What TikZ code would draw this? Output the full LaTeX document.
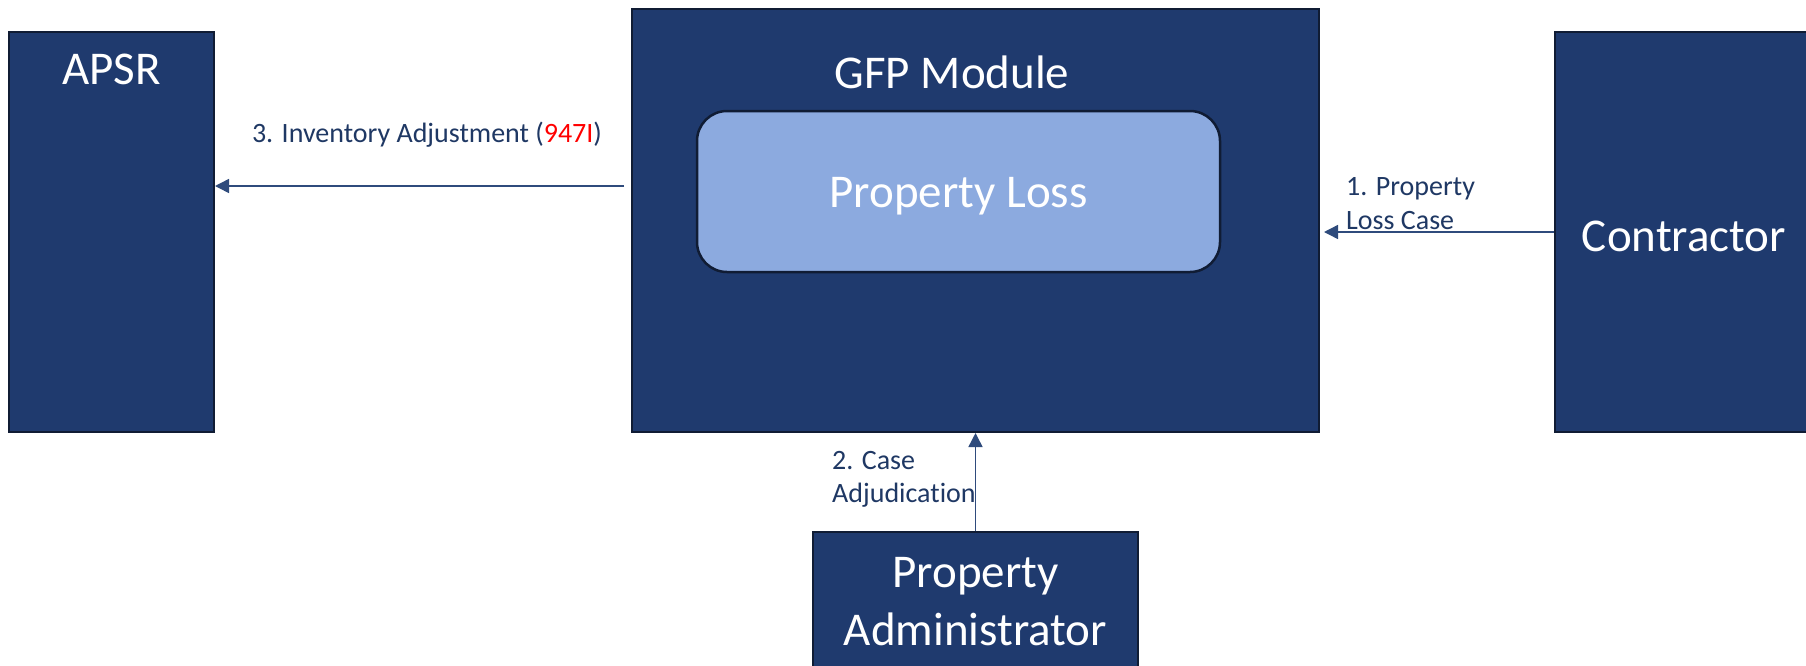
\documentclass[tikz,border=0pt]{standalone}
\usepackage{fontspec}
\setmainfont[Ligatures=NoCommon]{Carlito}
\usetikzlibrary{arrows.meta,calc}
\definecolor{boxblue}{RGB}{31,58,110}
\definecolor{boxline}{RGB}{16,28,52}
\definecolor{lightblue}{RGB}{140,170,223}
\definecolor{arrowblue}{RGB}{47,75,124}
\definecolor{labelblue}{RGB}{31,56,100}
\definecolor{redtext}{RGB}{255,0,0}
\begin{document}
\begin{tikzpicture}[x=1pt,y=-1pt,
  sysbox/.style={draw=boxline, line width=2pt, fill=boxblue, inner sep=0pt},
  bigtext/.style={text=white, font=\fontsize{47}{56}\selectfont, inner sep=0pt},
  lbl/.style={text=labelblue, font=\fontsize{28}{33.5}\selectfont, inner sep=0pt},
  arr/.style={draw=arrowblue, line width=1.5pt, -{Triangle[length=14pt,width=14pt]}}]
\useasboundingbox[fill=white] (0,0) rectangle (1806,665);
% boxes
\node[sysbox, minimum width=205pt, minimum height=400pt] (apsr) at (111.5,232) {};
\node[sysbox, minimum width=687pt, minimum height=423pt] (gfp) at (975.5,220.5) {};
\node[draw=boxline, line width=2.5pt, fill=lightblue, rounded corners=30pt,
      minimum width=523pt, minimum height=161pt] (loss) at (958.5,191.5) {};
\node[sysbox, minimum width=258pt, minimum height=400pt] (con) at (1684,232) {};
\node[sysbox, minimum width=325pt, minimum height=170pt] (pa) at (975.5,617) {};
% texts
\node[bigtext, anchor=base] (apsrt) at (111.5,84) {APSR};
\node[bigtext, anchor=base] (gfpt) at (952,88) {GFP Module};
\node[bigtext, anchor=base] (losst) at (958.5,207) {Property Loss};
\node[bigtext, anchor=base] (cont) at (1684,251) {Contractor};
\node[bigtext, anchor=base] (pat1) at (975.5,587) {Property};
\node[bigtext, anchor=base] (pat2) at (975.5,645) {Administrator};
% connectors
\coordinate (a3s) at (624,186);
\draw[arr] (a3s) -- (a3s -| apsr.east);
\coordinate (a1e) at (1324,232);
\draw[arr] (a1e -| con.west) -- (a1e);
\draw[arr] (pa.north) -- (gfp.south -| pa.north);
% labels
\node[lbl, anchor=base] (l3) at (427,142) {3. Inventory Adjustment (\textcolor{redtext}{947I})};
\node[lbl, anchor=base west] (l1a) at (1346,195) {1. Property};
\node[lbl, anchor=base west] (l1b) at (1346,229) {Loss Case};
\node[lbl, anchor=base west] (l2a) at (832,469) {2. Case};
\node[lbl, anchor=base west] (l2b) at (832,502) {Adjudication};
\end{tikzpicture}
\end{document}
